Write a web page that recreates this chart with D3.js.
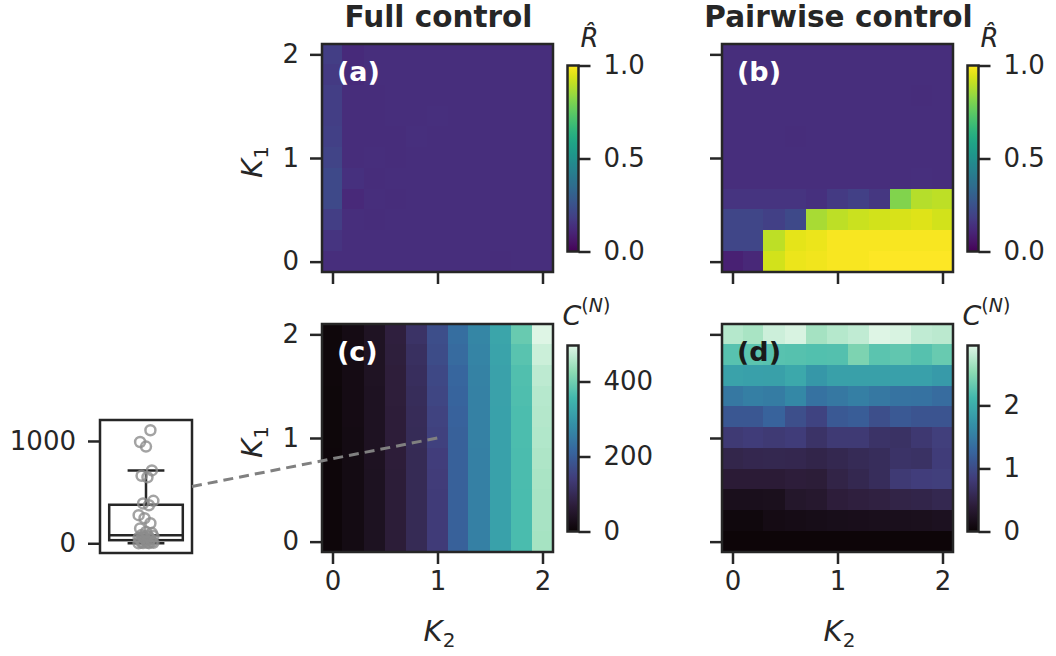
<!DOCTYPE html>
<html><head><meta charset="utf-8">
<script src="https://cdn.jsdelivr.net/npm/d3@7"></script>
<style>
body{margin:0;background:#fff;}
svg{display:block;font-family:"DejaVu Sans",sans-serif;}
</style></head><body>
<svg id="chart" width="1056" height="656"></svg>
<script>
// ---------------- DATA ----------------
const kValues = [0, 0.2, 0.4, 0.6, 0.8, 1.0, 1.2, 1.4, 1.6, 1.8, 2.0];      // K2 columns
const k1Rows  = [2.0, 1.8, 1.6, 1.4, 1.2, 1.0, 0.8, 0.6, 0.4, 0.2, 0];      // K1 rows, top to bottom
const axisTicks = [0, 1, 2];
const rTicks = [0, 0.5, 1.0];
const cFullTicks = [0, 200, 400];
const cPairTicks = [0, 1, 2];
const boxTicks = [0, 1000];
const columnTitles = ["Full control", "Pairwise control"];
const panelLabels = ["(a)", "(b)", "(c)", "(d)"];

// (a) R-hat, full control
const rHatFull = [
  [0.18,0.12,0.13,0.13,0.13,0.13,0.13,0.13,0.13,0.13,0.13],
  [0.17,0.12,0.13,0.13,0.13,0.13,0.13,0.13,0.13,0.13,0.13],
  [0.18,0.125,0.125,0.13,0.13,0.13,0.13,0.13,0.13,0.13,0.13],
  [0.18,0.125,0.125,0.13,0.13,0.135,0.13,0.13,0.13,0.13,0.13],
  [0.19,0.125,0.125,0.125,0.135,0.13,0.13,0.13,0.13,0.13,0.13],
  [0.20,0.125,0.13,0.125,0.13,0.13,0.13,0.13,0.13,0.13,0.13],
  [0.22,0.14,0.125,0.13,0.13,0.13,0.13,0.13,0.13,0.13,0.13],
  [0.22,0.115,0.13,0.125,0.13,0.13,0.13,0.13,0.13,0.13,0.13],
  [0.18,0.13,0.125,0.13,0.13,0.13,0.13,0.13,0.13,0.13,0.13],
  [0.15,0.13,0.13,0.13,0.13,0.13,0.13,0.13,0.13,0.13,0.13],
  [0.13,0.13,0.13,0.13,0.13,0.13,0.13,0.13,0.125,0.13,0.13]
];
// (b) R-hat, pairwise control
const rHatPair = [
  [0.13,0.13,0.13,0.13,0.13,0.13,0.13,0.13,0.13,0.13,0.13],
  [0.13,0.13,0.13,0.13,0.13,0.13,0.13,0.13,0.13,0.13,0.13],
  [0.13,0.13,0.13,0.13,0.13,0.13,0.13,0.13,0.13,0.125,0.13],
  [0.13,0.13,0.13,0.13,0.13,0.13,0.13,0.13,0.13,0.13,0.13],
  [0.13,0.13,0.13,0.125,0.13,0.13,0.13,0.13,0.13,0.13,0.13],
  [0.13,0.13,0.13,0.13,0.13,0.13,0.13,0.13,0.13,0.13,0.13],
  [0.13,0.13,0.13,0.13,0.13,0.13,0.13,0.13,0.13,0.135,0.13],
  [0.15,0.15,0.15,0.15,0.14,0.17,0.19,0.16,0.81,0.89,0.90],
  [0.21,0.21,0.19,0.22,0.87,0.90,0.92,0.93,0.94,0.95,0.93],
  [0.21,0.21,0.90,0.96,0.97,0.99,0.99,0.99,0.99,0.99,0.99],
  [0.09,0.11,0.93,0.97,0.98,0.99,0.99,1.00,1.00,1.00,1.00]
];
// (c) C^(N), full control
const cFull = [
  [8,20,40,74,118,172,228,268,322,392,496],
  [8,20,40,72,112,168,222,265,318,378,480],
  [8,20,40,70,108,162,215,262,316,370,468],
  [7,20,38,70,105,158,210,260,316,368,462],
  [7,20,38,68,103,152,208,260,315,366,460],
  [7,19,38,68,102,148,205,260,315,366,458],
  [6,19,38,68,100,142,205,258,315,365,455],
  [6,18,37,67,100,140,205,258,315,365,452],
  [6,18,37,67,100,138,205,258,315,364,450],
  [6,18,37,67,100,138,205,258,315,364,450],
  [6,18,37,67,100,138,205,258,315,364,448]
];
// (d) C^(N), pairwise control
const cPair = [
  [2.74,2.68,2.86,2.92,2.66,2.74,2.80,2.95,2.92,2.80,2.77],
  [2.24,2.26,2.24,2.23,2.21,2.22,2.45,2.26,2.29,2.23,2.33],
  [1.89,1.87,1.86,1.95,1.77,1.86,1.86,1.86,1.87,1.87,1.80],
  [1.45,1.53,1.50,1.62,1.39,1.45,1.53,1.45,1.40,1.39,1.33],
  [1.12,1.12,1.24,1.03,0.91,1.14,1.18,1.03,1.14,1.09,1.09],
  [0.80,0.83,0.80,0.83,0.71,0.80,0.80,0.71,0.69,0.78,0.86],
  [0.53,0.55,0.56,0.55,0.52,0.56,0.60,0.63,0.71,0.69,0.83],
  [0.38,0.38,0.38,0.41,0.40,0.50,0.56,0.63,0.80,0.84,0.86],
  [0.18,0.18,0.19,0.30,0.32,0.41,0.44,0.46,0.50,0.52,0.56],
  [0.06,0.06,0.12,0.13,0.15,0.16,0.17,0.18,0.18,0.19,0.21],
  [0.02,0.02,0.02,0.02,0.02,0.02,0.02,0.02,0.02,0.02,0.02]
];
// inset: C^(N) samples at K1 = 1, K2 = 1 (full control)
const boxValues = [0,1,2,4,6,10,15,25,32,40,48,55,60,65,70,75,
                   82,100,110,145,196,245,275,372,390,415,645,660,712,945,990,1105];
const insetK = {k1: 1, k2: 1};

// ---------------- STYLE ----------------
const ink = "#262626";
const makoStops = ["#0b0405","#2e1e3b","#413d7b","#37659e","#348fa7","#40b7ad","#8bdab2","#def5e5"];
const mako = d3.piecewise(d3.interpolateRgb, makoStops);
const svg = d3.select("#chart");

const W = 231, H = 228;
const colX = [322, 722];
const rowY = [44, 324];
const half = (kValues[1] - kValues[0]) / 2;
const TICK_FS = 26;

function styleAxis(g, fs) {
  g.select(".domain").remove();
  g.selectAll(".tick line").attr("stroke", ink).attr("stroke-width", 2.5);
  g.selectAll(".tick text").attr("fill", ink).style("font-size", fs + "px")
    .style("font-family", "'DejaVu Sans', sans-serif");
}

const panels = [
  {data: rHatFull, c: 0, r: 0, interp: d3.interpolateViridis, dom: [0, 1], ticks: rTicks, fmt: d3.format(".1f"), label: panelLabels[0], lc: "#fff", title: "R"},
  {data: rHatPair, c: 1, r: 0, interp: d3.interpolateViridis, dom: [0, 1], ticks: rTicks, fmt: d3.format(".1f"), label: panelLabels[1], lc: "#fff", title: "R"},
  {data: cFull, c: 0, r: 1, interp: mako, dom: [0, d3.max(cFull.flat())], ticks: cFullTicks, fmt: d3.format("d"), label: panelLabels[2], lc: "#fff", title: "C"},
  {data: cPair, c: 1, r: 1, interp: mako, dom: [0, d3.max(cPair.flat())], ticks: cPairTicks, fmt: d3.format("d"), label: panelLabels[3], lc: "#1a1a1a", title: "C"}
];

const scalesFor = {};
panels.forEach((p, pi) => {
  const x0 = colX[p.c], y0 = rowY[p.r];
  const xs = d3.scaleLinear().domain([kValues[0] - half, kValues[kValues.length - 1] + half]).range([x0, x0 + W]);
  const ys = d3.scaleLinear().domain([kValues[0] - half, kValues[kValues.length - 1] + half]).range([y0 + H, y0]);
  scalesFor[pi] = {xs, ys};
  const color = d3.scaleSequential(p.interp).domain(p.dom);
  const g = svg.append("g").attr("shape-rendering", "crispEdges");
  const cells = [];
  p.data.forEach((row, i) => row.forEach((v, j) => cells.push({k1: k1Rows[i], k2: kValues[j], v})));
  g.selectAll("rect.cell").data(cells).join("rect")
    .attr("class", "cell")
    .attr("x", d => Math.floor(xs(d.k2 - half)))
    .attr("y", d => Math.floor(ys(d.k1 + half)))
    .attr("width", d => Math.ceil(xs(d.k2 + half)) - Math.floor(xs(d.k2 - half)))
    .attr("height", d => Math.ceil(ys(d.k1 - half)) - Math.floor(ys(d.k1 + half)))
    .attr("fill", d => color(d.v));
  // spines
  svg.append("rect").attr("x", x0).attr("y", y0).attr("width", W).attr("height", H)
    .attr("fill", "none").attr("stroke", ink).attr("stroke-width", 2.5);
  // axes
  const ax = svg.append("g").attr("transform", `translate(${x0},0)`)
    .call(d3.axisLeft(ys).tickValues(axisTicks).tickSize(12).tickPadding(11)
      .tickFormat(p.c === 0 ? d3.format("d") : () => ""));
  styleAxis(ax, TICK_FS);
  const bx = svg.append("g").attr("transform", `translate(0,${y0 + H})`)
    .call(d3.axisBottom(xs).tickValues(axisTicks).tickSize(12).tickPadding(8)
      .tickFormat(p.r === 1 ? d3.format("d") : () => ""));
  styleAxis(bx, TICK_FS);
  // panel label
  svg.append("text").attr("x", x0 + 15).attr("y", y0 + 37)
    .attr("fill", p.lc).style("font-size", "27px").style("font-weight", "bold").text(p.label);

  // colorbar
  const cbX = x0 + 245.5, cbW = 11, cbTop = y0 + 21.5, cbBot = y0 + 207.5;
  const gid = "grad" + pi;
  const grad = svg.append("defs").append("linearGradient").attr("id", gid)
    .attr("x1", 0).attr("y1", 1).attr("x2", 0).attr("y2", 0);
  d3.range(0, 1.0001, 0.02).forEach(t => grad.append("stop").attr("offset", t).attr("stop-color", p.interp(t)));
  svg.append("rect").attr("x", cbX).attr("y", cbTop).attr("width", cbW).attr("height", cbBot - cbTop)
    .attr("fill", `url(#${gid})`).attr("stroke", ink).attr("stroke-width", 2.5);
  const cs = d3.scaleLinear().domain(p.dom).range([cbBot, cbTop]);
  const cax = svg.append("g").attr("transform", `translate(${cbX + cbW},0)`)
    .call(d3.axisRight(cs).tickValues(p.ticks).tickSize(12).tickPadding(13).tickFormat(p.fmt));
  styleAxis(cax, TICK_FS);

  // colorbar title
  if (p.title === "R") {
    svg.append("text").attr("x", cbX + 22).attr("y", y0 + 3).attr("text-anchor", "middle")
      .attr("fill", ink).style("font-size", "26px").style("font-style", "italic").text("R\u0302");
  } else {
    const t = svg.append("text").attr("x", cbX - 5).attr("y", y0 + 1)
      .attr("fill", ink).style("font-size", "27px");
    t.append("tspan").style("font-style", "italic").text("C");
    t.append("tspan").attr("dy", -13).style("font-size", "19px").text("(");
    t.append("tspan").style("font-size", "19px").style("font-style", "italic").text("N");
    t.append("tspan").style("font-size", "19px").text(")");
  }
});

// column titles
columnTitles.forEach((s, i) => {
  svg.append("text").attr("x", colX[i] + W / 2 + 1).attr("y", 27).attr("text-anchor", "middle")
    .attr("fill", ink).style("font-size", "29.5px").style("font-weight", "bold").text(s);
});

// axis labels
colX.forEach((x0, i) => {
  const t = svg.append("text").attr("x", x0 + W / 2 + 2).attr("y", 641).attr("text-anchor", "middle")
    .attr("fill", ink).style("font-size", "29px");
  t.append("tspan").style("font-style", "italic").text("K");
  t.append("tspan").attr("dy", 6).style("font-size", "20px").text("2");
});
rowY.forEach(y0 => {
  const t = svg.append("text").attr("transform", `translate(262,${y0 + H / 2 + 4}) rotate(-90)`)
    .attr("text-anchor", "middle").attr("fill", ink).style("font-size", "29px");
  t.append("tspan").style("font-style", "italic").text("K");
  t.append("tspan").attr("dy", 6).style("font-size", "20px").text("1");
});

// ---------------- INSET BOX PLOT ----------------
const bxs = d3.scaleLinear().domain([-0.5, 0.5]).range([100, 192]);
const bys = d3.scaleLinear().domain([-95, 1205]).range([553, 420]);
const sorted = boxValues.slice().sort(d3.ascending);
const q1 = d3.quantile(sorted, 0.25), med = d3.quantile(sorted, 0.5), q3 = d3.quantile(sorted, 0.75);
const iqr = q3 - q1;
const wHi = d3.max(sorted.filter(v => v <= q3 + 1.5 * iqr));
const wLo = d3.min(sorted.filter(v => v >= q1 - 1.5 * iqr));
const ib = svg.append("g");
ib.append("rect").attr("x", bxs(-0.5)).attr("y", bys.range()[1]).attr("width", bxs(0.5) - bxs(-0.5))
  .attr("height", bys.range()[0] - bys.range()[1]).attr("fill", "#fff").attr("stroke", ink).attr("stroke-width", 2.5);
ib.append("line").attr("x1", bxs(0)).attr("x2", bxs(0)).attr("y1", bys(q3)).attr("y2", bys(wHi)).attr("stroke", ink).attr("stroke-width", 2.5);
ib.append("line").attr("x1", bxs(0)).attr("x2", bxs(0)).attr("y1", bys(q1)).attr("y2", bys(wLo)).attr("stroke", ink).attr("stroke-width", 2.5);
[wHi, wLo].forEach(v => ib.append("line").attr("x1", bxs(-0.2)).attr("x2", bxs(0.2)).attr("y1", bys(v)).attr("y2", bys(v))
  .attr("stroke", ink).attr("stroke-width", 2.5));
ib.append("rect").attr("x", bxs(-0.4)).attr("y", bys(q3)).attr("width", bxs(0.4) - bxs(-0.4))
  .attr("height", bys(q1) - bys(q3)).attr("fill", "#fff").attr("stroke", ink).attr("stroke-width", 2.5);
ib.append("line").attr("x1", bxs(-0.4)).attr("x2", bxs(0.4)).attr("y1", bys(med)).attr("y2", bys(med)).attr("stroke", ink).attr("stroke-width", 2.5);
ib.selectAll("circle").data(boxValues).join("circle")
  .attr("cx", (d, i) => bxs((((i * 7) % 11) - 5) / 5 * 0.08))
  .attr("cy", d => bys(d)).attr("r", 5)
  .attr("fill", "none").attr("stroke", "#8c8c8c").attr("stroke-opacity", 0.8).attr("stroke-width", 2.5);
const bAx = svg.append("g").attr("transform", `translate(${bxs(-0.5)},0)`)
  .call(d3.axisLeft(bys).tickValues(boxTicks).tickSize(12).tickPadding(12).tickFormat(d3.format("d")));
styleAxis(bAx, TICK_FS);

// connector line
const sc = scalesFor[2];
svg.append("line").attr("x1", bxs(0.5)).attr("y1", (bys.range()[0] + bys.range()[1]) / 2)
  .attr("x2", sc.xs(insetK.k2)).attr("y2", sc.ys(insetK.k1))
  .attr("stroke", "#808080").attr("stroke-width", 3).attr("stroke-dasharray", "10,6");
</script>
</body></html>
